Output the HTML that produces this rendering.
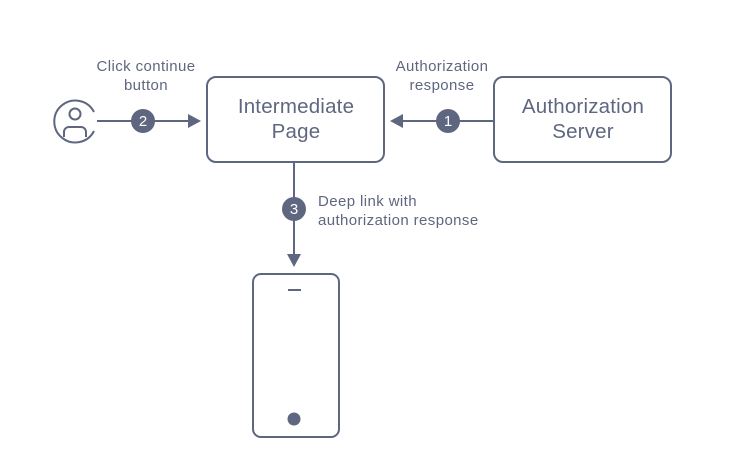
<!DOCTYPE html>
<html><head><meta charset="utf-8"><style>
html,body{margin:0;padding:0;background:#fff;width:729px;height:476px;overflow:hidden}
svg{display:block}
text{font-family:"Liberation Sans",sans-serif;fill:#5f6780}
</style></head><body>
<svg width="729" height="476" viewBox="0 0 729 476">
<g stroke="#5f6780" stroke-width="2" fill="none">
<rect x="207" y="77" width="177" height="85" rx="9"/>
<rect x="494" y="77" width="177" height="85" rx="9"/>
<rect x="253" y="274" width="86" height="163" rx="8"/>
<line x1="288" y1="290" x2="301" y2="290"/>
<path d="M94 112 A21 21 0 1 0 94 131"/>
<circle cx="75" cy="114" r="5.5"/>
<path d="M64 137 v-5 a5 5 0 0 1 5 -5 h12 a5 5 0 0 1 5 5 v5"/>
<line x1="97" y1="121" x2="190" y2="121"/>
<line x1="494" y1="121" x2="402" y2="121"/>
<line x1="294" y1="162" x2="294" y2="255"/>
</g>
<g fill="#5f6780">
<circle cx="294" cy="419" r="6.5"/>
<polygon points="188,114 201,121 188,128"/>
<polygon points="403,114 390,121 403,128"/>
<polygon points="287,254 301,254 294,267"/>
<circle cx="143" cy="121" r="12"/>
<circle cx="448" cy="121" r="12"/>
<circle cx="294" cy="209" r="12"/>
</g>
<g font-size="15" text-anchor="middle">
<text x="143" y="126" style="fill:#fff">2</text>
<text x="448" y="126" style="fill:#fff">1</text>
<text x="294" y="214" style="fill:#fff">3</text>
</g>
<g font-size="15" text-anchor="middle" letter-spacing="0.4">
<text x="146" y="71">Click continue</text>
<text x="146" y="90">button</text>
<text x="442" y="71">Authorization</text>
<text x="442" y="90">response</text>
</g>
<g font-size="15" letter-spacing="0.4">
<text x="318" y="206">Deep link with</text>
<text x="318" y="225">authorization response</text>
</g>
<g font-size="20.5" text-anchor="middle" letter-spacing="0.2">
<text x="296" y="113">Intermediate</text>
<text x="296" y="138">Page</text>
<text x="583" y="113">Authorization</text>
<text x="583" y="138">Server</text>
</g>
</svg>
</body></html>
